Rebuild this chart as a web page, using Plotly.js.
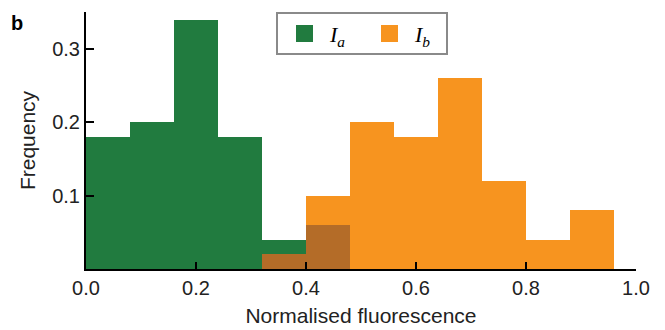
<!DOCTYPE html>
<html>
<head>
<meta charset="utf-8">
<script src="https://cdn.plot.ly/plotly-3.0.1.min.js"></script>
<style>html,body{margin:0;padding:0;background:#fff;}#chart{width:665px;height:330px;}</style>
</head>
<body>
<div id="chart"></div>
<script>
// Histogram bins (left edges), width 0.08
const binEdges = [0.00, 0.08, 0.16, 0.24, 0.32, 0.40, 0.48, 0.56, 0.64, 0.72, 0.80, 0.88];
const binWidth = 0.08;
const freqA = [0.18, 0.20, 0.34, 0.18, 0.04, 0.06, 0, 0, 0, 0, 0, 0];
const freqB = [0, 0, 0, 0, 0.02, 0.10, 0.20, 0.18, 0.26, 0.12, 0.04, 0.08];
const xTickVals = [0, 0.2, 0.4, 0.6, 0.8, 1.0];
const yTickVals = [0.1, 0.2, 0.3];

const centers = binEdges.map(e => e + binWidth / 2);
const overlap = freqA.map((a, i) => Math.min(a, freqB[i]));

const green = '#217B3F', orange = '#F7941F', brown = '#B46C28';

const traces = [
  {type: 'bar', x: centers, y: freqA, width: binWidth, marker: {color: green, line: {width: 0}}, name: 'Ia', showlegend: false},
  {type: 'bar', x: centers, y: freqB, width: binWidth, marker: {color: orange, line: {width: 0}}, name: 'Ib', showlegend: false},
  {type: 'bar', x: centers, y: overlap, width: binWidth, marker: {color: brown, line: {width: 0}}, name: 'overlap', showlegend: false}
];

const W = 550, H = 257, L = 86, T = 12;
const px = v => (v - L) / W;
const py = v => (T + H - v) / H;

const layout = {
  width: 665, height: 330,
  margin: {l: L, r: 665 - L - W, t: T, b: 330 - T - H},
  paper_bgcolor: '#fff', plot_bgcolor: '#fff',
  barmode: 'overlay', bargap: 0,
  font: {family: 'Liberation Sans, Arial, sans-serif', color: '#000'},
  xaxis: {
    range: [0, 1.0], tickvals: xTickVals, tickformat: '.1f',
    ticks: 'inside', ticklen: 7, tickwidth: 2, tickcolor: '#000',
    showline: true, linewidth: 2, linecolor: '#000', showgrid: false, zeroline: false,
    tickfont: {size: 20, color: '#222'},
    title: {text: 'Normalised fluorescence', font: {size: 21, color: '#222'}, standoff: 10}
  },
  yaxis: {
    range: [0, 0.3506], tickvals: yTickVals, tickformat: '.1f',
    ticks: 'inside', ticklen: 8, tickwidth: 2, tickcolor: '#000',
    showline: true, linewidth: 2, linecolor: '#000', showgrid: false, zeroline: false,
    tickfont: {size: 20, color: '#222'},
    title: {text: 'Frequency', font: {size: 21, color: '#222'}, standoff: 11}
  },
  shapes: [
    {type: 'rect', xref: 'paper', yref: 'paper', x0: px(277), x1: px(447), y0: py(54), y1: py(13),
     line: {color: '#8a8a8a', width: 2}, fillcolor: '#fff', layer: 'above'},
    {type: 'rect', xref: 'paper', yref: 'paper', x0: px(296), x1: px(313), y0: py(42), y1: py(25),
     line: {width: 0}, fillcolor: green, layer: 'above'},
    {type: 'rect', xref: 'paper', yref: 'paper', x0: px(381), x1: px(398), y0: py(42), y1: py(25),
     line: {width: 0}, fillcolor: orange, layer: 'above'}
  ],
  annotations: [
    {xref: 'paper', yref: 'paper', x: px(327), y: py(36), xanchor: 'left', yanchor: 'middle', showarrow: false,
     text: '<i>I</i><sub><i>a</i></sub>', font: {family: 'Liberation Serif, Times New Roman, serif', size: 22, color: '#000'}},
    {xref: 'paper', yref: 'paper', x: px(412), y: py(36), xanchor: 'left', yanchor: 'middle', showarrow: false,
     text: '<i>I</i><sub><i>b</i></sub>', font: {family: 'Liberation Serif, Times New Roman, serif', size: 22, color: '#000'}},
    {xref: 'paper', yref: 'paper', x: px(9), y: py(10), xanchor: 'left', yanchor: 'top', showarrow: false,
     text: '<b>b</b>', font: {size: 20, color: '#000'}}
  ]
};

Plotly.newPlot('chart', traces, layout, {displayModeBar: false, staticPlot: true});
</script>
</body>
</html>
